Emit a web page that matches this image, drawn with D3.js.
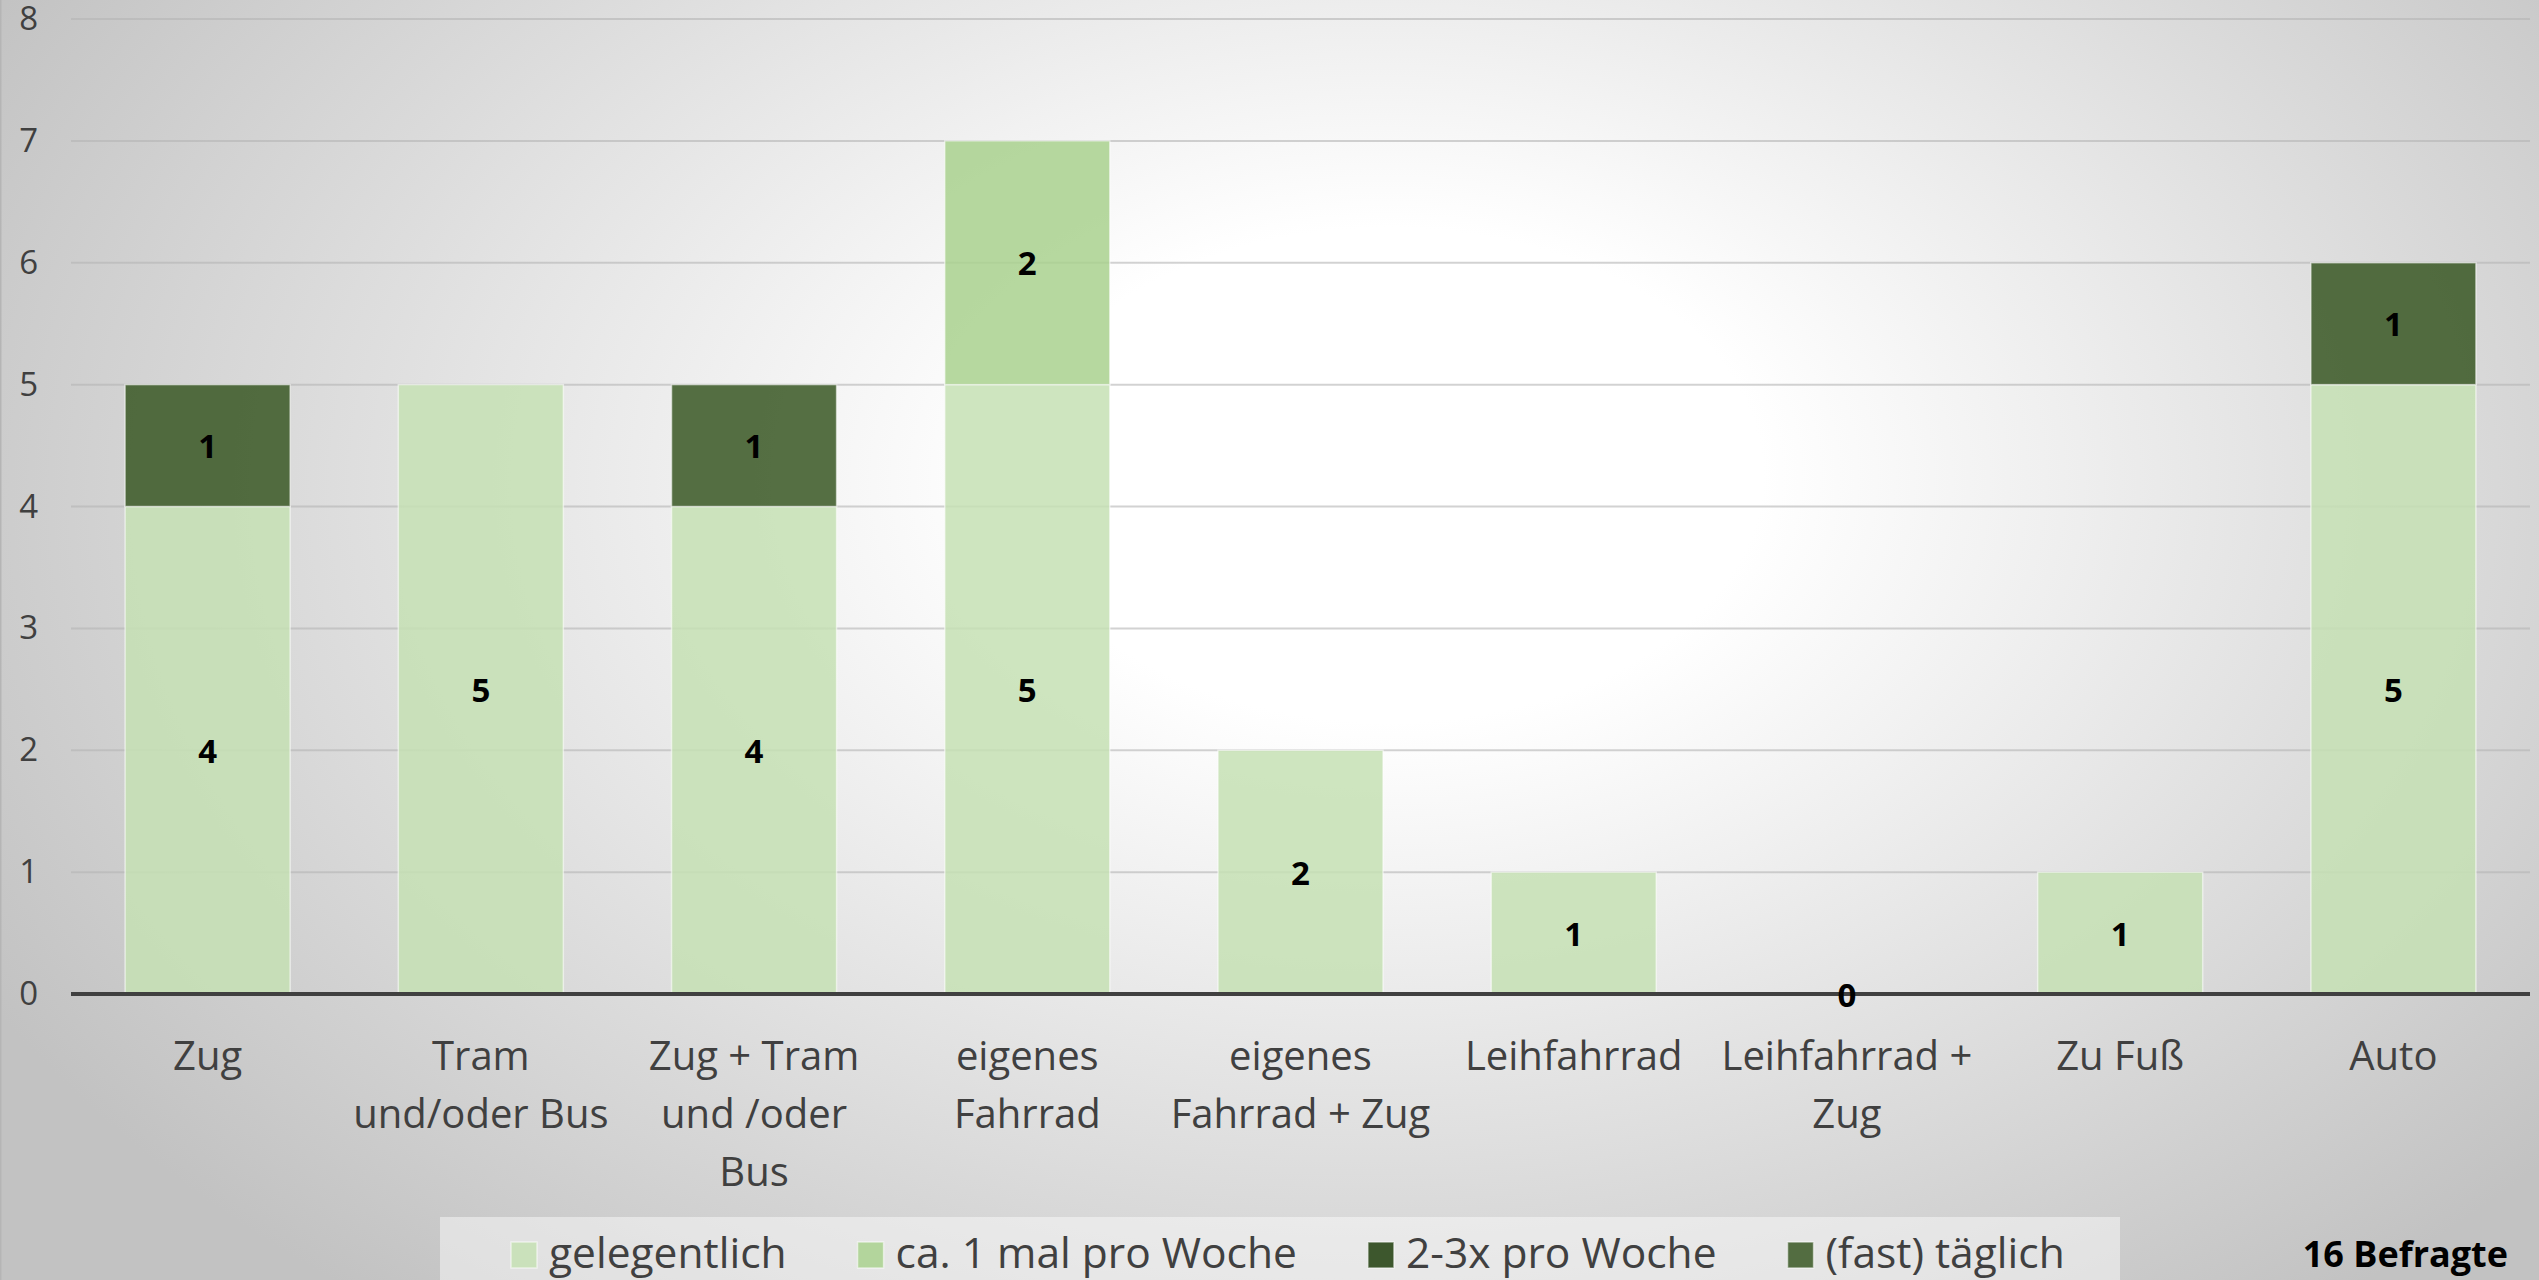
<!DOCTYPE html>
<html>
<head>
<meta charset="utf-8">
<script src="https://cdn.jsdelivr.net/npm/d3@7"></script>
<style>
  html, body { margin: 0; padding: 0; background: #ffffff; }
  svg { display: block; font-family: "Open Sans", "DejaVu Sans", sans-serif; }
</style>
</head>
<body>
<svg id="chart" width="2539" height="1280"></svg>
<script>
// ---------------- data ----------------
const categories = [
  "Zug",
  "Tram\nund/oder Bus",
  "Zug + Tram\nund /oder\nBus",
  "eigenes\nFahrrad",
  "eigenes\nFahrrad + Zug",
  "Leihfahrrad",
  "Leihfahrrad +\nZug",
  "Zu Fuß",
  "Auto"
];
const seriesNames = ["gelegentlich", "ca. 1 mal pro Woche", "2-3x pro Woche", "(fast) täglich"];
const gelegentlich   = [4, 5, 4, 5, 2, 1, 0, 1, 5];
const caEinmalWoche  = [0, 0, 0, 2, 0, 0, 0, 0, 0];
const zweiDreiWoche  = [0, 0, 0, 0, 0, 0, 0, 0, 0];
const fastTaeglich   = [1, 0, 1, 0, 0, 0, 0, 0, 1];
const yTicks = [0, 1, 2, 3, 4, 5, 6, 7, 8];
const note = "16 Befragte";
const seriesColors = ["#c5e0b4", "#a9d18e", "#1f3d0c", "#385723"];

// ---------------- setup ----------------
const W = 2539, H = 1280;
const svg = d3.select("#chart");
const defs = svg.append("defs");

// background radial gradient
const grad = defs.append("radialGradient")
  .attr("id", "bg")
  .attr("gradientUnits", "userSpaceOnUse")
  .attr("cx", 1350).attr("cy", 500).attr("r", 1560)
  .attr("fx", 1400).attr("fy", 450)
  .attr("gradientTransform", "translate(1350,500) scale(1,0.66) translate(-1350,-500)");
grad.append("stop").attr("offset", 0).attr("stop-color", "#ffffff");
grad.append("stop").attr("offset", 0.24).attr("stop-color", "#ffffff");
grad.append("stop").attr("offset", 1).attr("stop-color", "#c2c2c2");

svg.append("rect").attr("x", 0).attr("y", 0).attr("width", W).attr("height", H).attr("fill", "url(#bg)");
svg.append("line").attr("x1", 0.75).attr("x2", 0.75).attr("y1", 0).attr("y2", H)
  .attr("stroke", "#b5b5b5").attr("stroke-width", 1.5);

const table = categories.map((c, i) => ({
  cat: c,
  [seriesNames[0]]: gelegentlich[i],
  [seriesNames[1]]: caEinmalWoche[i],
  [seriesNames[2]]: zweiDreiWoche[i],
  [seriesNames[3]]: fastTaeglich[i]
}));

const x = d3.scaleBand().domain(categories).range([71, 2530]).paddingInner(0.396).paddingOuter(0.198);
const y = d3.scaleLinear().domain([0, 8]).range([994, 19]);
const color = d3.scaleOrdinal().domain(seriesNames).range(seriesColors);

// gridlines
svg.append("g").selectAll("line").data(yTicks.filter(d => d > 0)).join("line")
  .attr("x1", 71).attr("x2", 2530)
  .attr("y1", d => y(d)).attr("y2", d => y(d))
  .attr("stroke", "#b4b4b4").attr("stroke-opacity", 0.6).attr("stroke-width", 2);

// y axis labels via d3 axis
const yAxis = svg.append("g").attr("transform", "translate(38,0)")
  .call(d3.axisLeft(y).tickValues(yTicks).tickSize(0).tickPadding(0));
yAxis.select(".domain").remove();
yAxis.selectAll("text")
  .attr("font-size", 33).attr("fill", "#404040")
  .attr("font-family", "'Open Sans', sans-serif");

// stacked bars
const stack = d3.stack().keys(seriesNames)(table);
const layers = svg.append("g").selectAll("g").data(stack).join("g")
  .attr("fill", d => color(d.key)).attr("fill-opacity", 0.85);
layers.selectAll("rect").data(d => d.filter(s => s[1] - s[0] > 0)).join("rect")
  .attr("x", d => x(d.data.cat))
  .attr("width", x.bandwidth())
  .attr("y", d => y(d[1]))
  .attr("height", d => y(d[0]) - y(d[1]))
  .attr("stroke", "#ffffff").attr("stroke-opacity", 0.55).attr("stroke-width", 1.5);

// zero axis line
svg.append("line").attr("x1", 71).attr("x2", 2530).attr("y1", y(0)).attr("y2", y(0))
  .attr("stroke", "#404040").attr("stroke-width", 4);

// data labels
const labelData = [];
stack.forEach((layer, li) => {
  layer.forEach((s) => {
    const v = s[1] - s[0];
    const total = seriesNames.reduce((a, k) => a + s.data[k], 0);
    if (v > 0 || (total === 0 && li === 0)) {
      labelData.push({ cat: s.data.cat, v: v, mid: (s[0] + s[1]) / 2 });
    }
  });
});
svg.append("g").selectAll("text").data(labelData).join("text")
  .attr("x", d => x(d.cat) + x.bandwidth() / 2)
  .attr("y", d => y(d.mid))
  .attr("text-anchor", "middle")
  .attr("dominant-baseline", "central")
  .attr("font-size", 33).attr("font-weight", "bold").attr("fill", "#000000")
  .text(d => d.v);

// category labels
const catG = svg.append("g").selectAll("text").data(categories).join("text")
  .attr("x", d => x(d) + x.bandwidth() / 2)
  .attr("y", 1070)
  .attr("text-anchor", "middle")
  .attr("font-size", 40).attr("fill", "#404040");
catG.selectAll("tspan").data(d => d.split("\n")).join("tspan")
  .attr("x", function() { return d3.select(this.parentNode).attr("x"); })
  .attr("dy", (d, i) => i === 0 ? 0 : 58)
  .text(d => d);

// legend
svg.append("rect")
  .attr("x", 440).attr("y", 1217).attr("width", 1680).attr("height", 70)
  .attr("fill", "#ffffff").attr("fill-opacity", 0.45);
const legend = svg.append("g").attr("transform", "translate(511,0)");
let cx = 0;
seriesNames.forEach((name) => {
  const g = legend.append("g").attr("transform", `translate(${cx},0)`);
  g.append("rect").attr("x", 0).attr("y", 1242).attr("width", 26).attr("height", 26)
    .attr("fill", color(name)).attr("fill-opacity", 0.85)
    .attr("stroke", "#ffffff").attr("stroke-opacity", 0.55).attr("stroke-width", 1.5);
  const t = g.append("text").attr("x", 38).attr("y", 1268)
    .attr("font-size", 42.5).attr("fill", "#404040").text(name);
  cx += 38 + t.node().getComputedTextLength() + 71;
});

// note
svg.append("text").attr("x", 2508).attr("y", 1267)
  .attr("text-anchor", "end").attr("font-size", 36).attr("font-weight", "bold")
  .attr("fill", "#000000").text(note);
</script>
</body>
</html>
